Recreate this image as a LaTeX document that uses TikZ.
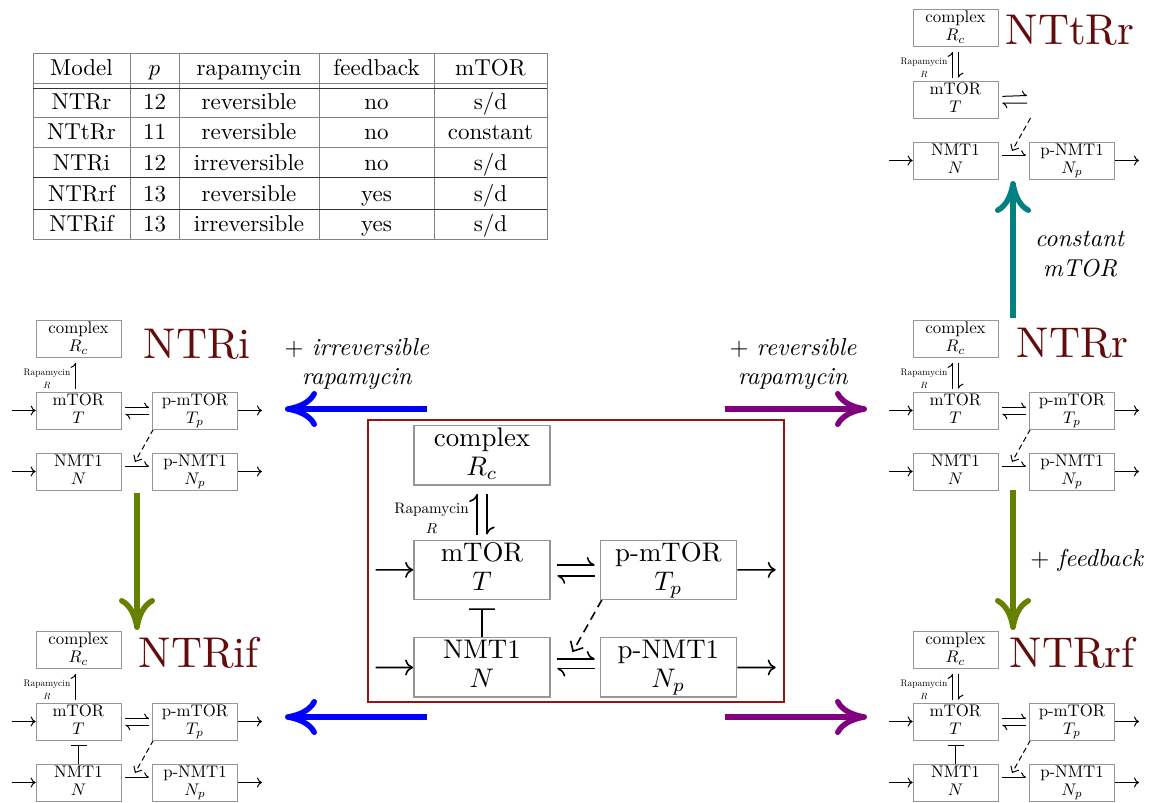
\documentclass[tikz,border=0pt]{standalone}
\usepackage{graphicx}
\usetikzlibrary{arrows.meta}
\definecolor{maroonT}{RGB}{100,12,12}
\definecolor{boxred}{RGB}{150,20,20}
\definecolor{bigblue}{RGB}{0,0,255}
\definecolor{bigpurple}{RGB}{128,0,128}
\definecolor{bigolive}{RGB}{102,128,0}
\definecolor{bigteal}{RGB}{0,128,128}
\definecolor{boxgray}{RGB}{150,150,150}
\definecolor{tgray}{RGB}{130,130,130}

\newcommand\setms[1]{%
 \def\ms{#1}%
 \pgfmathsetlengthmacro\mlw{1pt*#1}%
 \pgfmathsetlengthmacro\blw{0.7pt*#1}%
 \pgfmathsetlengthmacro\tipL{5pt*#1}%
 \pgfmathsetlengthmacro\tipW{10pt*#1}%
 \pgfmathsetlengthmacro\cL{5pt*#1}%
 \pgfmathsetlengthmacro\cW{9pt*#1}%
 \pgfmathsetlengthmacro\shA{4pt*#1}%
 \pgfmathsetlengthmacro\shB{3pt*#1}%
 \pgfmathsetlengthmacro\shV{5pt*#1}%
 \pgfmathsetlengthmacro\barW{16pt*#1}%
 \pgfmathsetlengthmacro\dashA{5.5pt*#1}%
 \pgfmathsetlengthmacro\dashB{3.5pt*#1}%
}
% two-line box text, 10pt design scaled up
\newcommand\mb[2]{\scalebox{1.68}{\fontsize{10}{10.9}\selectfont\begin{tabular}{@{}c@{}}#1\\#2\end{tabular}}}

\tikzset{
 mbox/.style={draw=boxgray, line width=\blw, minimum width=85pt, minimum height=37pt,
   inner sep=0pt},
 rlab/.style={inner sep=0pt, font=\fontsize{9.5}{11}\selectfont},
 flow/.style={line width=\mlw, -{To[length=\tipL,width=\tipW]}},
 harp/.style={line width=\mlw, -{To[harpoon,length=\tipL,width=\tipW]}},
 inh/.style={line width=\mlw, -{Bar[width=\barW]}},
 cat/.style={line width=\mlw, dash pattern=on \dashA off \dashB,
   -{Straight Barb[length=\cL,width=\cW]}},
 title/.style={inner sep=0pt, anchor=base west, text=maroonT, scale=4.3,
   font=\fontsize{10}{12}\selectfont},
 lab/.style={inner sep=0pt, align=center, scale=2.45, font=\fontsize{10}{12}\selectfont},
 big/.style={line width=5.5pt, -{To[length=32pt,width=36pt]}},
 tcell/.style={inner sep=0pt, anchor=base, scale=2.3, font=\fontsize{10}{12}\selectfont},
 tline/.style={draw=tgray, line width=0.9pt},
 tdark/.style={draw=black!80, line width=1pt},
}

% common part of a module (origin = top-left of complex box)
\newcommand\modcore[1]{%
 \node[mbox] (#1c) at (42.5,19) {\mb{complex}{$R_c$}};
 \node[mbox] (#1T) at (42.5,90.5) {\mb{mTOR}{$T$}};
 \node[mbox] (#1N) at (42.5,151.5) {\mb{NMT1}{$N$}};
 \node[mbox] (#1Np) at (159,151.5) {\mb{p-NMT1}{$N_p$}};
 \node[rlab] (#1rl) at (11,53) {Rapamycin};
 \node[rlab] (#1rs) at (11,65) {$R$};
 \coordinate (#1Nin) at (-24,151.5);
 \coordinate (#1Nout) at (226,151.5);
 \coordinate (#1Tps) at (117.5,109);
 \coordinate (#1cat) at (99,142);
 \draw[flow] (#1Nin) -- (#1N);
 \draw[flow] (#1Np) -- (#1Nout);
 \draw[harp, shorten <=\shA, shorten >=\shB] (#1N.7) -- (#1Np.173);
 \draw[harp, shorten <=\shB, shorten >=\shV] (#1T.99) -- (#1c.261);
 \draw[cat] (#1Tps) -- (#1cat);
}
\newcommand\modTp[1]{%
 \node[mbox] (#1Tp) at (159,90.5) {\mb{p-mTOR}{$T_p$}};
 \coordinate (#1Tin) at (-24,90.5);
 \coordinate (#1Tout) at (226,90.5);
 \draw[flow] (#1Tin) -- (#1T);
 \draw[flow] (#1Tp) -- (#1Tout);
 \draw[harp, shorten <=\shA, shorten >=\shB] (#1T.4) -- (#1Tp.176);
 \draw[harp, shorten <=\shB, shorten >=\shA] (#1Tp.185) -- (#1T.355);
}
\newcommand\modrev[1]{%
 \draw[harp, shorten <=\shV, shorten >=\shB] (#1c.279) -- (#1T.81);
}
\newcommand\modfb[1]{%
 \draw[inh, shorten >=\shV] (#1N) -- (#1T);
}
\newcommand\modNback[1]{%
 \draw[harp, shorten <=\shB, shorten >=\shA] (#1Np.181) -- (#1N.359);
}
\newcommand\trow[7]{%
 \node[tcell] (t#1a) at (81.5,#2) {#3};
 \node[tcell] (t#1b) at (154.5,#2) {#4};
 \node[tcell] (t#1c) at (249,#2) {#5};
 \node[tcell] (t#1d) at (376.5,#2) {#6};
 \node[tcell] (t#1e) at (490.5,#2) {#7};
}

\begin{document}
\begin{tikzpicture}[x=1pt,y=-1pt]
\fill[white] (0,0) rectangle (1152,803);
\useasboundingbox (0,0) rectangle (1152,803);

% ---------- table ----------
\draw[tline] (33,53) rectangle (547,239);
\foreach \vx in {130,179,319,434} \draw[tline] (\vx,53) -- (\vx,239);
\draw[tline] (33,83) -- (547,83);
\draw[tdark] (33,88) -- (547,88);
\draw[tline] (33,117) -- (547,117);
\draw[tline] (33,147) -- (547,147);
\draw[tdark] (33,177) -- (547,177);
\draw[tdark] (33,209) -- (547,209);
\trow{0}{75}{Model}{$p$}{rapamycin}{feedback}{mTOR}
\trow{1}{109}{NTRr}{12}{reversible}{no}{s/d}
\trow{2}{139}{NTtRr}{11}{reversible}{no}{constant}
\trow{3}{170}{NTRi}{12}{irreversible}{no}{s/d}
\trow{4}{201}{NTRrf}{13}{reversible}{yes}{s/d}
\trow{5}{231}{NTRif}{13}{irreversible}{yes}{s/d}

% ---------- small modules ----------
\setms{1}
\begin{scope}[shift={(36,320)}]
 \modcore{Ri-}\modTp{Ri-}
\end{scope}
\begin{scope}[shift={(36,631)}]
 \modcore{Rif-}\modTp{Rif-}\modfb{Rif-}
\end{scope}
\begin{scope}[shift={(913,320)}]
 \modcore{Rr-}\modTp{Rr-}\modrev{Rr-}
\end{scope}
\begin{scope}[shift={(913,631)}]
 \modcore{Rrf-}\modTp{Rrf-}\modrev{Rrf-}\modfb{Rrf-}
\end{scope}
\begin{scope}[shift={(913,9)}]
 \modcore{Rt-}\modrev{Rt-}
 \coordinate (Rt-h1) at (114,86.5);
 \coordinate (Rt-h2) at (114,94);
 \draw[harp, shorten <=\shA] (Rt-T.4) -- (Rt-h1);
 \draw[harp, shorten >=\shA] (Rt-h2) -- (Rt-T.355);
\end{scope}

% titles
\node[title] (tRi) at (143,358) {NTRi};
\node[title] (tRif) at (138,667) {NTRif};
\node[title] (tRr) at (1016,357) {NTRr};
\node[title] (tRrf) at (1009,667) {NTRrf};
\node[title] (tRt) at (1005,45) {NTtRr};

% ---------- central module ----------
\node[draw=boxred, line width=1.8pt, minimum width=416pt, minimum height=282pt, inner sep=0pt] (frame) at (576,561) {};
\setms{1.6}
\begin{scope}[shift={(414,425)}, scale=1.6, transform shape]
 \modcore{C-}\modTp{C-}\modrev{C-}\modfb{C-}\modNback{C-}
\end{scope}

% ---------- big arrows ----------
\coordinate (b1s) at (427,409); \coordinate (b1e) at (285,409);
\coordinate (b2s) at (427,717); \coordinate (b2e) at (285,717);
\coordinate (p1s) at (725,409); \coordinate (p1e) at (867,409);
\coordinate (p2s) at (725,717); \coordinate (p2e) at (867,717);
\coordinate (g1s) at (137,493); \coordinate (g1e) at (137,630);
\coordinate (g2s) at (1013,490); \coordinate (g2e) at (1013,630);
\coordinate (tls) at (1013,318); \coordinate (tle) at (1013,181);
\draw[big, draw=bigblue] (b1s) -- (b1e);
\draw[big, draw=bigblue] (b2s) -- (b2e);
\draw[big, draw=bigpurple] (p1s) -- (p1e);
\draw[big, draw=bigpurple] (p2s) -- (p2e);
\draw[big, draw=bigolive] (g1s) -- (g1e);
\draw[big, draw=bigolive] (g2s) -- (g2e);
\draw[big, draw=bigteal] (tls) -- (tle);

% labels
\node[lab] (lirr) at (357,364) {$+$ \textit{irreversible}\\\textit{rapamycin}};
\node[lab] (lrev) at (793,364) {$+$ \textit{reversible}\\\textit{rapamycin}};
\node[lab] (lcm) at (1080,254) {\textit{constant}\\\textit{mTOR}};
\node[lab, anchor=west] (lfb) at (1030,560) {$+$ \textit{feedback}};
\end{tikzpicture}
\end{document}
